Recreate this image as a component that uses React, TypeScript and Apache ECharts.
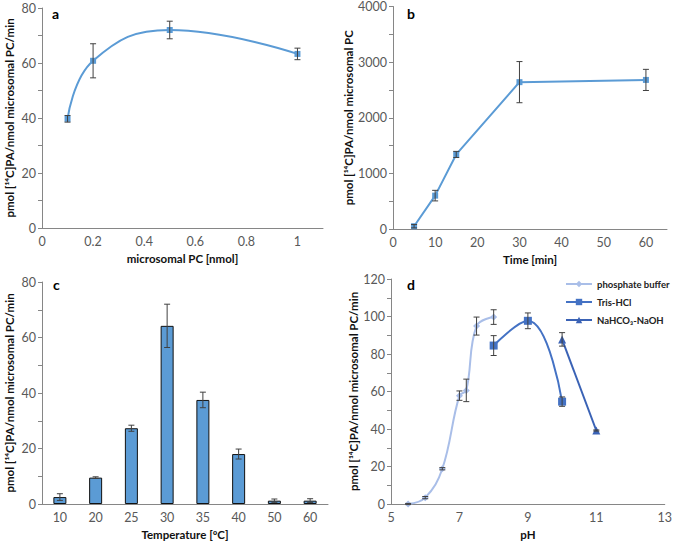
import React, { useEffect, useRef } from "react";
import * as echarts from "echarts";

// Panel a
const aX = [0.1, 0.2, 0.5, 1.0];
const aY = [39.7, 60.8, 72.0, 63.3];
const aErr = [1.2, 6.2, 3.2, 2.1];
// Panel b
const bX = [5, 10, 15, 30, 60];
const bY = [50, 600, 1340, 2640, 2680];
const bErr = [30, 95, 55, 370, 190];
// Panel c
const cCats = ["10", "20", "25", "30", "35", "40", "50", "60"];
const cY = [2.5, 9.5, 27.3, 64.2, 37.5, 18.0, 1.2, 1.2];
const cErr = [1.2, 0.3, 1.1, 7.8, 2.8, 1.8, 0.6, 0.7];
// Panel d
const pX = [5.5, 6, 6.5, 7, 7.2, 7.5, 8];
const pY = [0, 3.4, 18.8, 57.8, 60.6, 94.9, 99.7];
const pErr = [0.3, 0.6, 0.6, 2.5, 6.0, 4.8, 3.9];
const tX = [8, 9, 10];
const tY = [84.5, 97.7, 54.6];
const tErr = [5.3, 4.2, 2.5];
const nX = [10, 11];
const nY = [87.8, 39.2];
const nErr = [3.6, 0.3];

const FONT = "Lato";
const LABEL_COLOR = "#595959";
const AXIS_COLOR = "#868686";
const ERR_COLOR = "#404040";

const pairs = (xs: number[], ys: number[]) => xs.map((x, i) => [x, ys[i]]);
const errs = (xs: number[], ys: number[], es: number[]) =>
  xs.map((x, i) => [x, ys[i] - es[i], ys[i] + es[i]]);

function errSeries(idx: number, data: number[][]) {
  return {
    type: "custom",
    xAxisIndex: idx,
    yAxisIndex: idx,
    data,
    silent: true,
    z: 10,
    renderItem: (_p: any, api: any) => {
      const x = api.value(0);
      const lo = api.coord([x, api.value(1)]);
      const hi = api.coord([x, api.value(2)]);
      const w = 3;
      const st = { stroke: ERR_COLOR, lineWidth: 1 };
      return {
        type: "group",
        children: [
          { type: "line", shape: { x1: lo[0], y1: lo[1], x2: hi[0], y2: hi[1] }, style: st },
          { type: "line", shape: { x1: lo[0] - w, y1: lo[1], x2: lo[0] + w, y2: lo[1] }, style: st },
          { type: "line", shape: { x1: hi[0] - w, y1: hi[1], x2: hi[0] + w, y2: hi[1] }, style: st },
        ],
      };
    },
  };
}

const axisLabel = { color: LABEL_COLOR, fontFamily: FONT, fontSize: 12.5 };
const nameStyle = { color: "#111", fontFamily: FONT, fontSize: 11.5, fontWeight: "bold" as const };

function yAxis(idx: number, max: number, interval: number, name: string) {
  return {
    type: "value",
    gridIndex: idx,
    min: 0,
    max,
    interval,
    name,
    nameLocation: "middle",
    nameRotate: 90,
    nameGap: 27,
    nameTextStyle: nameStyle,
    axisLine: { show: true, lineStyle: { color: AXIS_COLOR } },
    axisTick: { show: true, length: 4, lineStyle: { color: AXIS_COLOR } },
    minorTick: { show: true, splitNumber: 2, length: 4, lineStyle: { color: AXIS_COLOR } },
    axisLabel: { ...axisLabel, margin: 6, formatter: (v: number) => String(v) },
    splitLine: { show: false },
  };
}

function xValAxis(idx: number, min: number, max: number, interval: number, name: string, hideMax = false) {
  return {
    type: "value",
    gridIndex: idx,
    min,
    max,
    interval,
    name,
    nameLocation: "middle",
    nameGap: 24,
    nameTextStyle: nameStyle,
    axisLine: { show: true, onZero: false, lineStyle: { color: AXIS_COLOR } },
    axisTick: { show: false },
    axisLabel: { ...axisLabel, margin: 7, showMaxLabel: !hideMax, formatter: (v: number) => String(v) },
    splitLine: { show: false },
  };
}

const YNAME = "pmol [\u00B9\u2074C]PA/nmol microsomal PC/min";

export default function App() {
  const ref = useRef<HTMLDivElement>(null);
  useEffect(() => {
    document.body.style.margin = "0";
    const chart = echarts.init(ref.current!, null, { renderer: "svg" });
    const blue = "#5B9BD5";
    const option: any = {
      animation: false,
      backgroundColor: "#fff",
      grid: [
        { left: 42, top: 8, width: 281, height: 220 },
        { left: 393, top: 5, width: 274, height: 224 },
        { left: 42, top: 282, width: 286, height: 224 },
        { left: 391, top: 279, width: 274, height: 225 },
      ],
      xAxis: [
        xValAxis(0, 0, 1.1, 0.2, "microsomal PC [nmol]", true),
        xValAxis(1, 0, 65, 10, "Time [min]", true),
        {
          type: "category",
          gridIndex: 2,
          data: cCats,
          name: "Temperature [\u00BAC]",
          nameLocation: "middle",
          nameGap: 24,
          nameTextStyle: nameStyle,
          axisLine: { show: true, lineStyle: { color: AXIS_COLOR } },
          axisTick: { show: false },
          axisLabel: { ...axisLabel, margin: 7 },
        },
        xValAxis(3, 5, 13, 2, "pH"),
      ],
      yAxis: [
        yAxis(0, 80, 20, YNAME),
        yAxis(1, 4000, 1000, "pmol [\u00B9\u2074C]PA/nmol microsomal PC"),
        yAxis(2, 80, 20, YNAME),
        yAxis(3, 120, 20, YNAME),
      ],
      legend: {
        orient: "vertical",
        left: 560,
        top: 274,
        itemWidth: 26,
        itemHeight: 8,
        itemGap: 8,
        textStyle: { fontFamily: FONT, fontSize: 9.5, fontWeight: "bold", color: "#222" },
        data: ["phosphate buffer", "Tris-HCl", "NaHCO\u2083-NaOH"],
      },
      graphic: [
        { type: "text", left: 52, top: 6, style: { text: "a", font: `bold 14px ${FONT}`, fill: "#000" } },
        { type: "text", left: 407, top: 6, style: { text: "b", font: `bold 14px ${FONT}`, fill: "#000" } },
        { type: "text", left: 53, top: 277, style: { text: "c", font: `bold 14px ${FONT}`, fill: "#000" } },
        { type: "text", left: 407, top: 277, style: { text: "d", font: `bold 14px ${FONT}`, fill: "#000" } },
      ],
      series: [
        {
          type: "line",
          xAxisIndex: 0,
          yAxisIndex: 0,
          data: pairs(aX, aY),
          smooth: 0.45,
          symbol: "rect",
          symbolSize: 6,
          lineStyle: { color: blue, width: 2 },
          itemStyle: { color: blue },
        },
        errSeries(0, errs(aX, aY, aErr)),
        {
          type: "line",
          xAxisIndex: 1,
          yAxisIndex: 1,
          data: pairs(bX, bY),
          symbol: "rect",
          symbolSize: 6,
          lineStyle: { color: blue, width: 2 },
          itemStyle: { color: blue },
        },
        errSeries(1, errs(bX, bY, bErr)),
        {
          type: "bar",
          xAxisIndex: 2,
          yAxisIndex: 2,
          data: cY,
          barWidth: 13,
          itemStyle: { color: blue, borderColor: "#111", borderWidth: 1 },
        },
        errSeries(2, cY.map((v, i) => [i, v - cErr[i], v + cErr[i]])),
        {
          name: "phosphate buffer",
          type: "line",
          xAxisIndex: 3,
          yAxisIndex: 3,
          data: pairs(pX, pY),
          smooth: 0.4,
          symbol: "diamond",
          symbolSize: 7,
          lineStyle: { color: "#A9BEE8", width: 2 },
          itemStyle: { color: "#A9BEE8" },
        },
        errSeries(3, errs(pX, pY, pErr)),
        {
          name: "Tris-HCl",
          type: "line",
          xAxisIndex: 3,
          yAxisIndex: 3,
          data: pairs(tX, tY),
          smooth: 0.45,
          symbol: "rect",
          symbolSize: 8,
          lineStyle: { color: "#4472C4", width: 2 },
          itemStyle: { color: "#4472C4" },
        },
        errSeries(3, errs(tX, tY, tErr)),
        {
          name: "NaHCO\u2083-NaOH",
          type: "line",
          xAxisIndex: 3,
          yAxisIndex: 3,
          data: pairs(nX, nY),
          symbol: "triangle",
          symbolSize: 8,
          lineStyle: { color: "#3A62B5", width: 2 },
          itemStyle: { color: "#3A62B5" },
        },
        errSeries(3, errs(nX, nY, nErr)),
      ],
    };
    chart.setOption(option);
    return () => chart.dispose();
  }, []);
  return <div ref={ref} style={{ width: 675, height: 541 }} />;
}
